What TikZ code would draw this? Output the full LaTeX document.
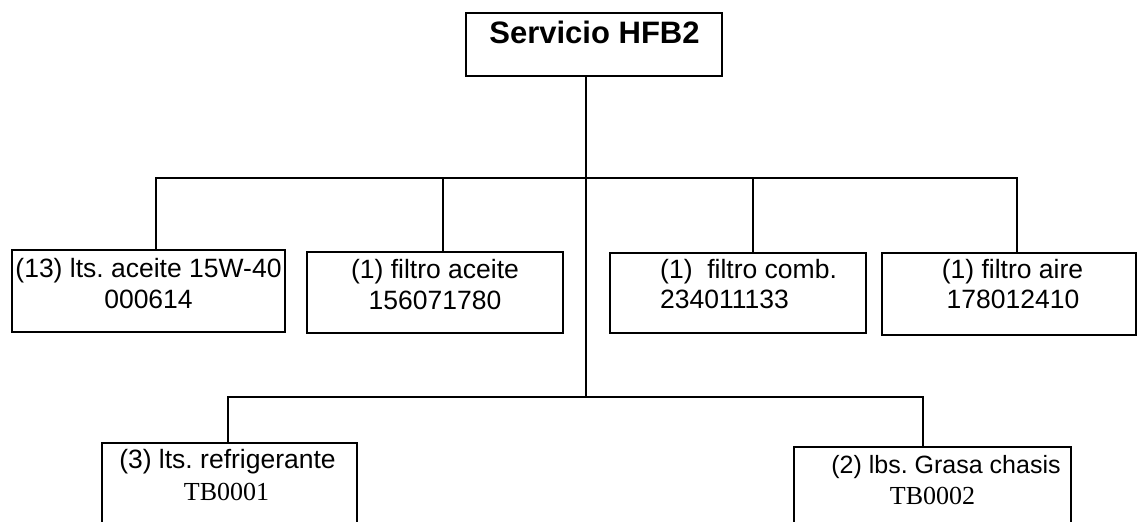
\documentclass[tikz,border=0pt]{standalone}
\usepackage{fontspec}
\setmainfont{Liberation Sans}
\newfontfamily\tbserif{Liberation Serif}
\frenchspacing
\begin{document}
\begin{tikzpicture}[x=1pt,y=-1pt,
  box/.style={draw, line width=1.3pt, rectangle, inner sep=0pt, outer sep=0pt, anchor=north west},
  txt/.style={anchor=base, inner sep=0pt, font=\fontsize{26.5}{30}\selectfont},
  txtl/.style={anchor=base west, inner sep=0pt, font=\fontsize{26.5}{30}\selectfont},
  tb/.style={anchor=base, inner sep=0pt, font=\tbserif\fontsize{26}{30}\selectfont},
  conn/.style={line width=1.3pt}]
\path[use as bounding box] (0,0) rectangle (1138,522);
\clip (0,0) rectangle (1138,522);
% boxes
\node[box, minimum width=256pt, minimum height=63pt] (top) at (466,13) {};
\node[box, minimum width=273pt, minimum height=82pt] (b1) at (12,250) {};
\node[box, minimum width=256pt, minimum height=81pt] (b2) at (307,252) {};
\node[box, minimum width=256pt, minimum height=80pt] (b3) at (610,253) {};
\node[box, minimum width=254pt, minimum height=82pt] (b4) at (882,253) {};
\node[box, minimum width=255pt, minimum height=100pt] (b5) at (102,443) {};
\node[box, minimum width=277pt, minimum height=100pt] (b6) at (794,447) {};
% texts
\node[anchor=base, inner sep=0pt, font=\bfseries\fontsize{31}{34}\selectfont] (t0) at (594.5,43) {Servicio HFB2};
\node[txt] (t1a) at (148.5,277) {(13) lts. aceite 15W-40};
\node[txt] (t1b) at (148.5,308) {000614};
\node[txt] (t2a) at (435,278) {(1) filtro aceite};
\node[txt] (t2b) at (435,309) {156071780};
\node[txtl] (t3a) at (660,278) {(1)\ \ filtro comb.};
\node[txtl] (t3b) at (660,308) {234011133};
\node[txt] (t4a) at (1012.5,278) {(1) filtro aire};
\node[txt] (t4b) at (1013,308) {178012410};
\node[txt] (t5a) at (227.5,468) {(3) lts. refrigerante};
\node[tb] (t5b) at (226.5,500) {TB0001};
\node[txt, font=\fontsize{25}{28}\selectfont] (t6a) at (946,473) {(2) lbs. Grasa chasis};
\node[tb] (t6b) at (932.5,504) {TB0002};
% junctions
\coordinate (j1) at (586,178);
\coordinate (j2) at (586,397);
% connectors
\draw[conn] (top.south -| j1) -- (j2);
\draw[conn] ([xshift=7.5pt]b1.north) |- (j1);
\draw[conn] ([xshift=8pt]b2.north) |- (j1);
\draw[conn] ([xshift=15pt]b3.north) |- (j1);
\draw[conn] ([xshift=8pt]b4.north) |- (j1);
\draw[conn] ([xshift=-1.5pt]b5.north) |- (j2);
\draw[conn] ([xshift=-9.5pt]b6.north) |- (j2);
\end{tikzpicture}
\end{document}
